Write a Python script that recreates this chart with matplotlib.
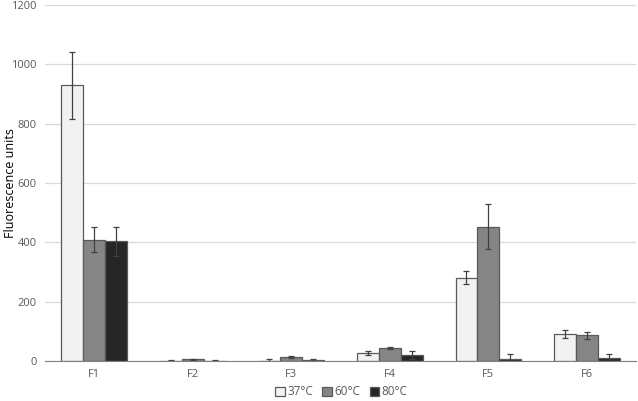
import matplotlib.pyplot as plt
import numpy as np

# Data
categories = ['F1', 'F2', 'F3', 'F4', 'F5', 'F6']
series = ['37°C', '60°C', '80°C']
vals_37 = [930, 1, 1, 26, 281, 92]
vals_60 = [409, 5, 13, 44, 453, 87]
vals_80 = [403, 1, 2, 21, 7, 10]
err_37 = [113, 1, 7, 7, 21, 14]
err_60 = [43, 3, 3, 3, 75, 12]
err_80 = [50, 1, 5, 13, 18, 12]

plt.rcParams['font.family'] = ['Open Sans', 'DejaVu Sans']

fig = plt.figure(figsize=(6.38, 4.01), dpi=100)
ax = fig.add_axes([0.0705, 0.0998, 0.9265, 0.8877])

x = np.arange(len(categories))
w = 0.222
colors = ['#f2f2f2', '#858585', '#262626']
vals = [vals_37, vals_60, vals_80]
errs = [err_37, err_60, err_80]

for i in range(3):
    ax.bar(x + (i - 1) * w, vals[i], width=w, color=colors[i],
           edgecolor='#595959', linewidth=0.9, label=series[i], zorder=3,
           yerr=errs[i], error_kw=dict(ecolor='#404040', elinewidth=0.9,
                                       capsize=2.5, capthick=0.9, zorder=4))

ax.set_xlim(-0.5, len(categories) - 0.5)
ax.set_ylim(0, 1200)
ax.set_yticks(range(0, 1201, 200))
ax.set_xticks(x)
ax.set_xticklabels(categories)
ax.tick_params(axis='both', length=0, labelsize=8, colors='#595959', pad=6)
ax.grid(axis='y', color='#d9d9d9', linewidth=0.9, zorder=0)
for s in ['top', 'right', 'left']:
    ax.spines[s].set_visible(False)
ax.spines['bottom'].set_color('#808080')
ax.spines['bottom'].set_zorder(5)

ax.set_ylabel('Fluorescence units', fontsize=9, color='black')
ax.yaxis.set_label_coords(-0.048, 0.5)

fig.legend(loc='lower center', bbox_to_anchor=(0.535, -0.02), ncol=3,
           frameon=False, fontsize=8.5, handlelength=0.8, handleheight=0.8,
           handletextpad=0.2, columnspacing=0.8, labelcolor='#595959')

fig.savefig('out.png', dpi=100)
